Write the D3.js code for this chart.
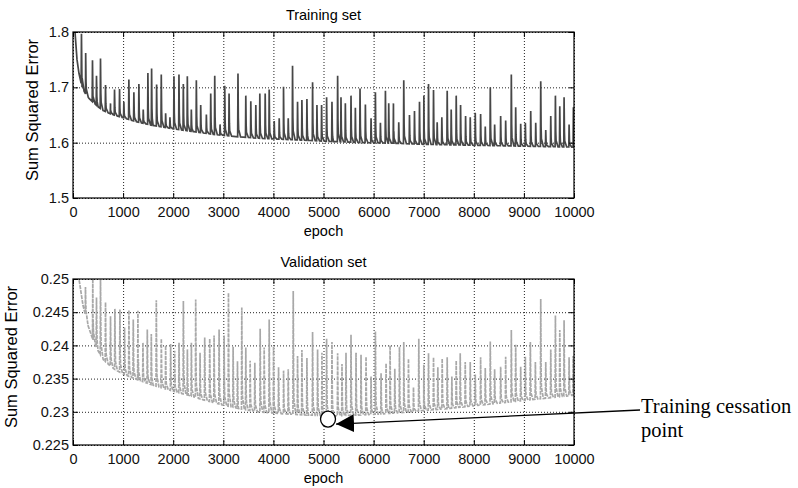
<!DOCTYPE html>
<html>
<head>
<meta charset="utf-8">
<script src="https://cdn.jsdelivr.net/npm/d3@7"></script>
<style>
  body { margin: 0; background: #fff; }
</style>
</head>
<body>
<div id="viz-container"></div>
<script>
// ---- values ----
let epochTicks = [0, 1000, 2000, 3000, 4000, 5000, 6000, 7000, 8000, 9000, 10000];
let trainTicks = [1.5, 1.6, 1.7, 1.8];
let trainTickLabels = ["1.5", "1.6", "1.7", "1.8"];
let validTicks = [0.225, 0.23, 0.235, 0.24, 0.245, 0.25];
let validTickLabels = ["0.225", "0.23", "0.235", "0.24", "0.245", "0.25"];

// lower envelope of the training curve
let trainBaseEpoch = [0, 40, 80, 120, 180, 250, 320, 400, 500, 600, 750, 1000, 1300, 1600, 2000, 2400, 2800, 3250, 3700, 4200, 4700, 5200, 5800, 6400, 7000, 7600, 8200, 8800, 9400, 10000];
let trainBaseValue = [1.86, 1.80, 1.75, 1.725, 1.70, 1.688, 1.68, 1.673, 1.665, 1.658, 1.652, 1.645, 1.637, 1.631, 1.625, 1.62, 1.615, 1.611, 1.608, 1.606, 1.604, 1.602, 1.600, 1.599, 1.597, 1.596, 1.595, 1.594, 1.593, 1.592];
// spikes of the training curve
let trainSpikeEpoch = [166, 250, 386, 466, 546, 646, 746, 826, 926, 1012, 1112, 1212, 1312, 1399, 1492, 1566, 1666, 1759, 1846, 1932, 2012, 2112, 2199, 2279, 2359, 2459, 2546, 2659, 2746, 2826, 2932, 3026, 3112, 3290, 3446, 3546, 3646, 3726, 3833, 3913, 4013, 4113, 4199, 4293, 4379, 4479, 4566, 4666, 4779, 4866, 4959, 5059, 5166, 5279, 5346, 5433, 5546, 5633, 5726, 5833, 5946, 6033, 6133, 6233, 6299, 6393, 6499, 6599, 6713, 6813, 6913, 7000, 7093, 7193, 7266, 7359, 7466, 7546, 7646, 7733, 7833, 7926, 8026, 8133, 8226, 8326, 8413, 8533, 8633, 8746, 8833, 8933, 9026, 9133, 9233, 9333, 9433, 9533, 9626, 9713, 9799, 9899, 9985];
let trainSpikeValue = [1.797, 1.762, 1.749, 1.721, 1.752, 1.704, 1.671, 1.696, 1.697, 1.674, 1.714, 1.691, 1.706, 1.66, 1.726, 1.734, 1.705, 1.723, 1.653, 1.646, 1.72, 1.723, 1.706, 1.72, 1.66, 1.713, 1.668, 1.651, 1.689, 1.721, 1.633, 1.703, 1.689, 1.725, 1.685, 1.675, 1.668, 1.689, 1.689, 1.696, 1.639, 1.644, 1.701, 1.644, 1.739, 1.674, 1.677, 1.679, 1.709, 1.668, 1.668, 1.682, 1.674, 1.721, 1.682, 1.671, 1.685, 1.663, 1.698, 1.669, 1.644, 1.691, 1.636, 1.694, 1.671, 1.671, 1.637, 1.713, 1.65, 1.657, 1.674, 1.685, 1.706, 1.695, 1.637, 1.646, 1.694, 1.66, 1.685, 1.668, 1.648, 1.646, 1.654, 1.652, 1.629, 1.70, 1.633, 1.648, 1.64, 1.723, 1.664, 1.634, 1.636, 1.657, 1.636, 1.711, 1.623, 1.648, 1.685, 1.666, 1.682, 1.633, 1.664];

// lower envelope of the validation curve
let validBaseEpoch = [0, 130, 200, 300, 400, 500, 610, 810, 1000, 1300, 1600, 2000, 2300, 2600, 3000, 3300, 3700, 4200, 4700, 5200, 5700, 6200, 6600, 7000, 7500, 8000, 8500, 9000, 9500, 10000];
let validBaseValue = [0.255, 0.2495, 0.246, 0.243, 0.2408, 0.2392, 0.2378, 0.2365, 0.2357, 0.2348, 0.234, 0.2331, 0.2325, 0.2318, 0.231, 0.2305, 0.23, 0.2297, 0.2295, 0.2294, 0.2295, 0.2297, 0.2299, 0.2302, 0.2305, 0.2309, 0.2313, 0.2317, 0.2321, 0.2325];
// spikes of the validation curve
let validSpikeEpoch = [246, 392, 466, 546, 646, 746, 833, 933, 1026, 1113, 1200, 1293, 1393, 1480, 1560, 1660, 1760, 1846, 1946, 2026, 2113, 2200, 2280, 2360, 2446, 2533, 2626, 2726, 2813, 2913, 3013, 3100, 3193, 3280, 3366, 3446, 3533, 3626, 3733, 3813, 3913, 4000, 4100, 4200, 4293, 4393, 4479, 4566, 4666, 4779, 4879, 4966, 5059, 5166, 5279, 5366, 5446, 5546, 5646, 5746, 5846, 5946, 6033, 6146, 6246, 6326, 6420, 6513, 6599, 6693, 6793, 6899, 6999, 7093, 7193, 7279, 7366, 7466, 7559, 7646, 7726, 7826, 7926, 8026, 8133, 8226, 8326, 8413, 8533, 8633, 8746, 8833, 8933, 9026, 9126, 9226, 9333, 9433, 9533, 9626, 9713, 9799, 9899, 9980];
let validSpikeValue = [0.2488, 0.2505, 0.2472, 0.2505, 0.2465, 0.2444, 0.2455, 0.2454, 0.2427, 0.2453, 0.2439, 0.2452, 0.2404, 0.2424, 0.2417, 0.2468, 0.241, 0.24, 0.2402, 0.2392, 0.2404, 0.2467, 0.2394, 0.2404, 0.2469, 0.2389, 0.2412, 0.241, 0.2415, 0.2424, 0.2415, 0.2479, 0.2398, 0.2376, 0.2457, 0.2397, 0.2377, 0.2374, 0.2425, 0.2397, 0.2439, 0.2399, 0.2367, 0.2362, 0.2364, 0.2482, 0.2384, 0.2393, 0.2381, 0.242, 0.2394, 0.2389, 0.241, 0.2405, 0.2388, 0.2372, 0.2389, 0.2416, 0.2389, 0.2386, 0.2383, 0.2353, 0.2421, 0.2358, 0.2373, 0.24, 0.2365, 0.2398, 0.2405, 0.238, 0.2337, 0.241, 0.2371, 0.2388, 0.2382, 0.2367, 0.238, 0.2382, 0.2353, 0.2377, 0.2388, 0.2375, 0.2375, 0.2356, 0.2382, 0.2366, 0.2406, 0.2364, 0.2368, 0.2383, 0.2423, 0.2401, 0.2368, 0.2383, 0.2405, 0.2375, 0.247, 0.2375, 0.2394, 0.2445, 0.2423, 0.2438, 0.2382, 0.2384];

// the marked point where training stopped
let stopEpoch = 5090;
let stopValue = 0.2289;

let sans = "'Liberation Sans', Arial, sans-serif";
let serif = "'Liberation Serif', 'Times New Roman', serif";

let viz = d3.select("#viz-container")
  .append("svg")
    .attr("width", 798)
    .attr("height", 488)
;

// arrow head for the annotation
viz.append("defs").append("marker")
    .attr("id", "arrowHead")
    .attr("markerUnits", "userSpaceOnUse")
    .attr("viewBox", "0 0 18 18")
    .attr("markerWidth", 18)
    .attr("markerHeight", 18)
    .attr("refX", 18)
    .attr("refY", 9)
    .attr("orient", "auto")
  .append("path")
    .attr("d", "M0,0 L18,9 L0,18 Z")
    .attr("fill", "black");

let left = 73, right = 574;
let x = d3.scaleLinear().domain([0, 10000]).range([left, right]);

// one subplot: frame, grid, ticks, labels and the curve
function drawPanel(id, top, bottom, yDomain, yTicks, yLabels, title, yLabelX,
                   baseE, baseV, spikeE, spikeV, color, dash) {
  let y = d3.scaleLinear().domain(yDomain).range([bottom, top]);
  let g = viz.append("g").attr("id", id);
  let h = bottom - top;
  let w = right - left;

  // dotted grid
  g.append("g")
      .attr("transform", `translate(0,${bottom})`)
      .call(d3.axisBottom(x).tickValues(epochTicks).tickSize(-h).tickFormat(""))
      .call(s => s.select(".domain").remove())
      .selectAll("line")
        .attr("stroke", "#222")
        .attr("stroke-dasharray", "1,2");
  g.append("g")
      .attr("transform", `translate(${left},0)`)
      .call(d3.axisLeft(y).tickValues(yTicks).tickSize(-w).tickFormat(""))
      .call(s => s.select(".domain").remove())
      .selectAll("line")
        .attr("stroke", "#222")
        .attr("stroke-dasharray", "1,2");

  // curve: envelope with spikes on top; each spike falls back with a short shoulder
  let foot = d3.scaleLinear().domain(baseE).range(baseV);
  let pts = baseE.map((e, i) => [e, baseV[i]]);
  spikeE.forEach((e, i) => {
    let f = foot(e);
    pts.push([e - 3, foot(e - 3)]);
    pts.push([e + 3, spikeV[i]]);
    pts.push([e + 10, f + (spikeV[i] - f) * 0.3]);
    pts.push([e + 16, f + (spikeV[i] - f) * 0.12]);
    pts.push([e + 55, foot(e + 55)]);
  });
  pts.sort((a, b) => a[0] - b[0]);

  g.append("clipPath").attr("id", id + "-clip")
    .append("rect").attr("x", left).attr("y", top).attr("width", w).attr("height", h);

  g.append("path")
      .datum(pts)
      .attr("clip-path", `url(#${id}-clip)`)
      .attr("fill", "none")
      .attr("stroke", color)
      .attr("stroke-width", 1.7)
      .attr("stroke-dasharray", dash)
      .attr("d", d3.line().x(d => x(d[0])).y(d => y(d[1])));

  // frame
  g.append("rect")
      .attr("x", left).attr("y", top).attr("width", w).attr("height", h)
      .attr("fill", "none").attr("stroke", "black").attr("stroke-width", 1.2);

  // ticks pointing inward, labels outside
  g.append("g")
      .attr("transform", `translate(0,${bottom})`)
      .call(d3.axisBottom(x).tickValues(epochTicks).tickSize(-5).tickPadding(9).tickFormat(d3.format("d")));
  g.append("g")
      .attr("transform", `translate(${left},0)`)
      .call(d3.axisLeft(y).tickValues(yTicks).tickSize(-5).tickPadding(4).tickFormat((d, i) => yLabels[i]));
  g.append("g")
      .attr("transform", `translate(0,${top})`)
      .call(d3.axisTop(x).tickValues(epochTicks).tickSize(-5).tickFormat(""));
  g.append("g")
      .attr("transform", `translate(${right},0)`)
      .call(d3.axisRight(y).tickValues(yTicks).tickSize(-5).tickFormat(""));
  g.selectAll(".domain").remove();
  g.selectAll(".tick text")
      .style("font-family", sans)
      .style("font-size", "14.5px")
      .attr("fill", "#111");

  g.append("text")
      .attr("x", (left + right) / 2)
      .attr("y", top - 12)
      .attr("text-anchor", "middle")
      .style("font-family", sans)
      .style("font-size", "14.5px")
      .text(title);
  g.append("text")
      .attr("x", (left + right) / 2)
      .attr("y", bottom + 38)
      .attr("text-anchor", "middle")
      .style("font-family", sans)
      .style("font-size", "14.5px")
      .text("epoch");
  g.append("text")
      .attr("transform", `translate(${yLabelX},${(top + bottom) / 2 - 5}) rotate(-90)`)
      .attr("text-anchor", "middle")
      .style("font-family", sans)
      .style("font-size", "16.5px")
      .text("Sum Squared Error");

  return y;
}

drawPanel("train", 32, 198, [1.5, 1.8], trainTicks, trainTickLabels, "Training set", 38,
          trainBaseEpoch, trainBaseValue, trainSpikeEpoch, trainSpikeValue, "#474747", null);

let yValid = drawPanel("valid", 279, 445, [0.225, 0.25], validTicks, validTickLabels, "Validation set", 17,
          validBaseEpoch, validBaseValue, validSpikeEpoch, validSpikeValue, "#a8a8a8", "4,1");

// annotation: circle, arrow and serif text
let cx = x(stopEpoch), cy = yValid(stopValue);
viz.append("ellipse")
    .attr("cx", cx).attr("cy", cy)
    .attr("rx", 7.5).attr("ry", 8)
    .attr("fill", "white")
    .attr("stroke", "black")
    .attr("stroke-width", 1.3);

viz.append("line")
    .attr("x1", 640).attr("y1", 410)
    .attr("x2", cx + 8).attr("y2", cy + 5)
    .attr("stroke", "black")
    .attr("stroke-width", 1.3)
    .attr("marker-end", "url(#arrowHead)");

let note = viz.append("text")
    .style("font-family", serif)
    .style("font-size", "20.5px")
    .attr("fill", "black");
note.append("tspan").attr("x", 641).attr("y", 413).text("Training cessation");
note.append("tspan").attr("x", 641).attr("y", 437).text("point");
</script>
</body>
</html>
